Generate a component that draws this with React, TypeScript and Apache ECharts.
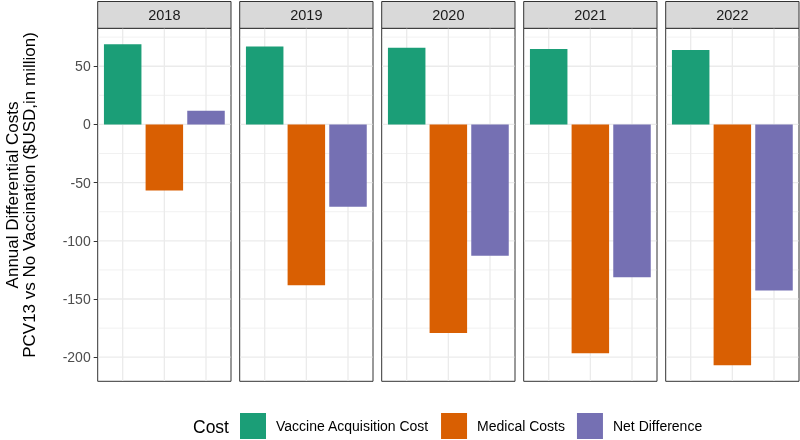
import { useEffect, useRef } from 'react';
import * as echarts from 'echarts';

const years = ['2018', '2019', '2020', '2021', '2022'];
const costTypes = ['Vaccine Acquisition Cost', 'Medical Costs', 'Net Difference'];
const vaccineCost = [68.8, 67.0, 65.8, 64.7, 63.9];
const medicalCost = [-56.7, -138.1, -179.1, -196.6, -206.9];
const netDifference = [11.7, -70.8, -112.9, -131.2, -142.7];
const yMajorBreaks = [-200, -150, -100, -50, 0, 50];
const yMinorBreaks = [-175, -125, -75, -25, 25, 75];
const categoryPositions = [1, 2, 3];
const colors = ['#1B9E77', '#D95F02', '#7570B3'];
const yTitleLines = ['Annual Differential Costs', 'PCV13 vs No Vaccination ($USD,in million)'];
const legendTitle = 'Cost';

const seriesValues = [vaccineCost, medicalCost, netDifference];

export default function App() {
  const ref = useRef<HTMLDivElement>(null);
  useEffect(() => {
    if (!ref.current) return;
    const chart = echarts.init(ref.current, null, { renderer: 'svg' });

    const all = seriesValues.flat();
    const dMin = Math.min(...all);
    const dMax = Math.max(...all);
    const span = dMax - dMin;
    const yMin = dMin - 0.05 * span;
    const yMax = dMax + 0.05 * span;

    const panelLeft0 = 97.7;
    const pitch = 142;
    const panelW = 133.3;
    const panelTop = 28.3;
    const panelH = 353;
    const stripTop = 1.5;

    const grids: any[] = [];
    const xAxes: any[] = [];
    const yAxes: any[] = [];
    const series: any[] = [];
    const graphics: any[] = [];

    years.forEach((yr, i) => {
      const left = panelLeft0 + pitch * i;
      grids.push({
        left, top: panelTop, width: panelW, height: panelH,
        show: true, borderColor: '#333333', borderWidth: 1, backgroundColor: '#ffffff',
      });
      xAxes.push({ type: 'value', gridIndex: i, min: 0.4, max: 3.6, show: false });
      yAxes.push({
        type: 'value', gridIndex: i, min: yMin, max: yMax,
        axisLine: { show: false },
        splitLine: { show: false },
        axisLabel: i === 0
          ? { show: true, customValues: yMajorBreaks, color: '#4D4D4D', fontSize: 14, margin: 7 }
          : { show: false },
        axisTick: i === 0
          ? { show: true, customValues: yMajorBreaks, length: 4, lineStyle: { color: '#333333', width: 1 } }
          : { show: false },
      });
      series.push({
        type: 'custom', xAxisIndex: i, yAxisIndex: i, z: 1, silent: true,
        data: [[1, 0]],
        renderItem: (params: any, api: any) => {
          const cs = params.coordSys;
          const children: any[] = [];
          yMinorBreaks.forEach((v) => {
            const y = api.coord([1, v])[1];
            if (y < cs.y || y > cs.y + cs.height) return;
            children.push({ type: 'line', shape: { x1: cs.x + 0.5, y1: y, x2: cs.x + cs.width - 0.5, y2: y }, style: { stroke: '#EBEBEB', lineWidth: 0.7 } });
          });
          yMajorBreaks.forEach((v) => {
            const y = api.coord([1, v])[1];
            children.push({ type: 'line', shape: { x1: cs.x + 0.5, y1: y, x2: cs.x + cs.width - 0.5, y2: y }, style: { stroke: '#EBEBEB', lineWidth: 1.3 } });
          });
          categoryPositions.forEach((c) => {
            const x = api.coord([c, 0])[0];
            children.push({ type: 'line', shape: { x1: x, y1: cs.y + 0.5, x2: x, y2: cs.y + cs.height - 0.5 }, style: { stroke: '#EBEBEB', lineWidth: 1.3 } });
          });
          return { type: 'group', children };
        },
      });
      costTypes.forEach((name, k) => {
        series.push({
          type: 'bar', name, xAxisIndex: i, yAxisIndex: i, z: 2,
          barWidth: 37.5, barGap: '-100%',
          itemStyle: { color: colors[k] },
          data: [[categoryPositions[k], seriesValues[k][i]]],
        });
      });
      graphics.push({
        type: 'rect', silent: true,
        shape: { x: left, y: stripTop, width: panelW, height: panelTop - stripTop },
        style: { fill: '#D9D9D9', stroke: '#333333', lineWidth: 1 },
      });
      graphics.push({
        type: 'text', silent: true,
        x: left + panelW / 2, y: (stripTop + panelTop) / 2 + 0.5,
        style: { text: yr, fontSize: 14.5, fill: '#1A1A1A', align: 'center', verticalAlign: 'middle', fontFamily: 'Liberation Sans, Arial, sans-serif' },
      });
    });

    graphics.push({
      type: 'text', silent: true,
      x: 21, y: 195, rotation: Math.PI / 2,
      style: {
        text: yTitleLines.join('\n'), fontSize: 17, lineHeight: 17, fill: '#000000',
        align: 'center', verticalAlign: 'middle', fontFamily: 'Liberation Sans, Arial, sans-serif',
      },
    });
    graphics.push({
      type: 'text', silent: true,
      x: 193, y: 427,
      style: { text: legendTitle, fontSize: 17.5, fill: '#000000', align: 'left', verticalAlign: 'middle', fontFamily: 'Liberation Sans, Arial, sans-serif' },
    });

    chart.setOption({
      animation: false,
      textStyle: { fontFamily: 'Liberation Sans, Arial, sans-serif' },
      grid: grids,
      xAxis: xAxes,
      yAxis: yAxes,
      legend: {
        data: costTypes,
        left: 240, top: 413,
        padding: 0,
        orient: 'horizontal',
        icon: 'rect',
        itemWidth: 26, itemHeight: 26, itemGap: 12,
        selectedMode: false,
        textStyle: { fontSize: 14, color: '#000000', padding: [0, 0, 0, 5] },
      },
      graphic: graphics,
      series,
    });
    return () => chart.dispose();
  }, []);
  return <div ref={ref} style={{ position: 'fixed', left: 0, top: 0, width: 800, height: 440 }} />;
}
